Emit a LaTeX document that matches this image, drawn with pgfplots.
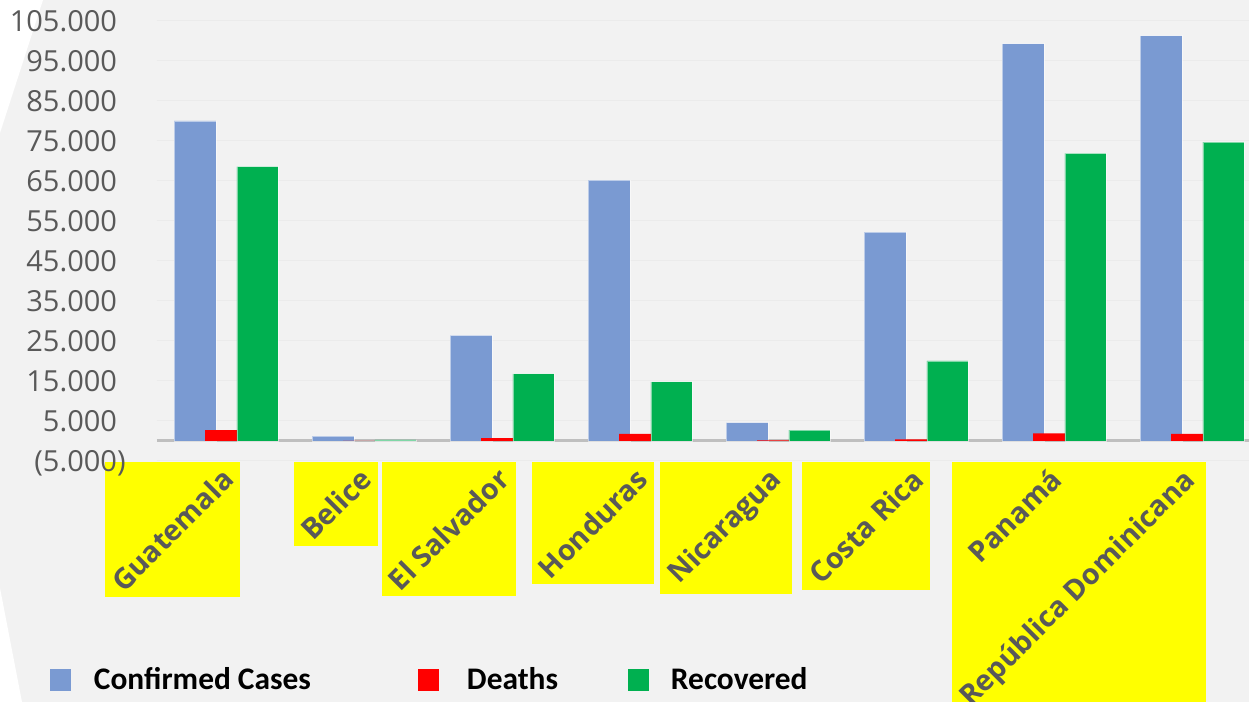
\documentclass[border=0pt]{standalone}
\usepackage{pgfplots}
\pgfplotsset{compat=1.18}
\usepackage{graphicx}
\usepackage{fontspec}
\setmainfont{Open Sans}
\newfontfamily\tickfont{Open Sans}
\newfontfamily\catfont{Open Sans}
\newfontfamily\legfont{Carlito}
\definecolor{bg}{HTML}{F2F2F2}
\definecolor{gridc}{HTML}{EBEBEB}
\definecolor{cblue}{HTML}{7A9AD2}
\definecolor{cred}{HTML}{FF0000}
\definecolor{cgreen}{HTML}{00B050}
\definecolor{labgray}{HTML}{595959}
\definecolor{yel}{HTML}{FFFF00}
\newcommand{\cl}[1]{{\setlength{\fboxsep}{2pt}\colorbox{yel}{\rotatebox{45}{\catfont\bfseries\fontsize{14.3}{16}\selectfont #1}}}}
\pgfplotsset{
  mybar/.style={ybar, legend image code/.code={\fill[##1,draw=none] (0pt,-5.5pt) rectangle (10.5pt,5.5pt);}},
}
\begin{document}
\begin{tikzpicture}[x=0.5pt,y=0.5pt]
\fill[bg] (0,0) rectangle (1249,702);
\fill[white] (0,702) -- (43,702) -- (0,569) -- cycle;
\fill[white] (0,0) -- (22,0) -- (0,114) -- cycle;
\begin{axis}[
  at={(78.5pt,120.5pt)}, anchor=south west,
  scale only axis, width=546pt, height=220pt,
  xmin=-0.5, xmax=7.413, ymin=-5000, ymax=105000,
  scaled y ticks=false,
  axis line style={draw=none},
  tick style={draw=none},
  ytick={-5000,5000,15000,25000,35000,45000,55000,65000,75000,85000,95000,105000},
  yticklabels={(5.000),5.000\phantom{)},15.000\phantom{)},25.000\phantom{)},35.000\phantom{)},45.000\phantom{)},55.000\phantom{)},65.000\phantom{)},75.000\phantom{)},85.000\phantom{)},95.000\phantom{)},105.000\phantom{)}},
  yticklabel style={font=\tickfont\fontsize{14.5}{17}\selectfont, text=labgray, anchor=base east, inner sep=0pt, xshift=-15.5pt, yshift=-5.2pt},
  xtick={7,6,5,4,3,2,1,0},
  xticklabels={{\cl{República Dominicana}},{\cl{Panamá}},{\cl{Costa Rica}},{\cl{Nicaragua}},{\cl{Honduras}},{\cl{El Salvador}},{\cl{Belice}},{\cl{Guatemala}}},
  xticklabel style={anchor=north east, inner sep=0pt, xshift=7pt, yshift=-0.5pt, text=labgray},
  ymajorgrids, grid style={draw=gridc, line width=0.5pt},
  extra y ticks={0}, extra y tick labels={},
  extra y tick style={grid=major, major grid style={draw=black!25, line width=1.5pt}},
  legend style={at={(axis description cs:-0.098,-0.4977)}, anchor=west, draw=none, fill=none,
    inner sep=0pt, outer sep=0pt, legend columns=3,
    font=\legfont\bfseries\fontsize{15.7}{18}\selectfont, text=black,
    nodes={inner sep=0pt}, column sep=0pt},
  legend cell align=left,
]
\addplot[mybar, bar width=0.304, bar shift=-0.2246, fill=cblue, draw=white, draw opacity=0.5, line width=0.4pt]
  coordinates {(0,80000) (1,1200) (2,26400) (3,65200) (4,4600) (5,52200) (6,99300) (7,101300)};
\addlegendentry{\hspace*{11.5pt}\makebox[162pt][l]{Confirmed Cases}}
\addplot[mybar, bar width=0.232, bar shift=-0.036, fill=cred, draw=none]
  coordinates {(0,2700) (1,20) (2,700) (3,1750) (4,150) (5,400) (6,1900) (7,1800)};
\addlegendentry{\hspace*{14pt}\makebox[80.5pt][l]{Deaths}}
\addplot[mybar, bar width=0.297, bar shift=0.228, fill=cgreen, draw=white, draw opacity=0.5, line width=0.4pt]
  coordinates {(0,68600) (1,250) (2,16800) (3,14800) (4,2700) (5,20000) (6,71900) (7,74700)};
\addlegendentry{\hspace*{11pt}\makebox[69pt][l]{Recovered}}
\end{axis}
\pgfresetboundingbox
\useasboundingbox (0,0) rectangle (1249,702);
\end{tikzpicture}
\end{document}
